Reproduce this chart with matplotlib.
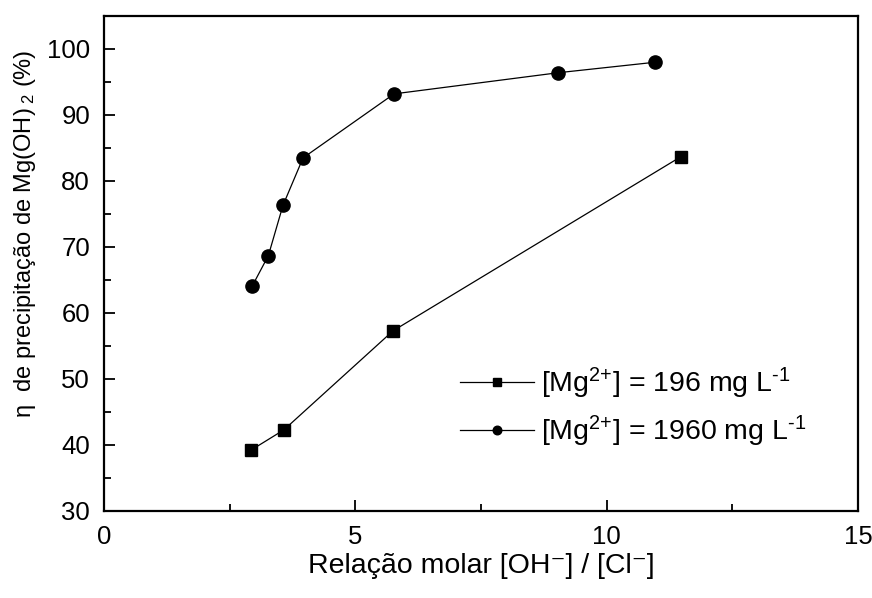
import numpy as np
import matplotlib
matplotlib.use('Agg')
import matplotlib.pyplot as plt

plt.rcParams['font.family'] = ['Liberation Sans', 'DejaVu Sans']
plt.rcParams['mathtext.fontset'] = 'custom'
plt.rcParams['mathtext.rm'] = 'Liberation Sans'
plt.rcParams['mathtext.it'] = 'Liberation Sans'

# data
x_196 = [2.92, 3.58, 5.75, 11.48]
y_196 = [39.2, 42.3, 57.3, 83.7]
x_1960 = [2.95, 3.27, 3.56, 3.96, 5.77, 9.03, 10.97]
y_1960 = [64.1, 68.7, 76.3, 83.5, 93.2, 96.4, 98.0]

lab_196 = r'[Mg$\mathregular{^{2{+}}}$] = 196 mg L$\mathregular{^{\text{-}1}}$'
lab_1960 = r'[Mg$\mathregular{^{2{+}}}$] = 1960 mg L$\mathregular{^{\text{-}1}}$'

fig = plt.figure(figsize=(8.72, 5.98), dpi=100)
ax = fig.add_axes([104/872, 1-511/598, (858-104)/872, (511-16)/598])

ax.plot(x_196, y_196, '-s', color='black', lw=0.9, ms=9, label=lab_196)
ax.plot(x_1960, y_1960, '-o', color='black', lw=0.9, ms=9.5, label=lab_1960)

ax.set_xlim(0, 15)
ax.set_ylim(30, 105)
ax.set_xticks([0, 5, 10, 15])
ax.set_xticks([2.5, 7.5, 12.5], minor=True)
ax.set_yticks(np.arange(30, 101, 10))
ax.set_yticks(np.arange(35, 101, 10), minor=True)
ax.tick_params(which='both', direction='in', top=False, right=False,
               labelsize=18.5, width=1.3, pad=10)
ax.tick_params(which='major', length=8)
ax.tick_params(which='minor', length=5)
for s in ax.spines.values():
    s.set_linewidth(1.6)

ax.set_xlabel('Relação molar [OH⁻] / [Cl⁻]', fontsize=20.5, labelpad=3)
ax.set_ylabel(r'η  de precipitação de Mg(OH)$_{\ 2}$ (%)', fontsize=17)
ax.yaxis.set_label_coords(-0.088, 0.56)

ax.legend(loc='center left', bbox_to_anchor=(0.472, 0.21), frameon=False,
          fontsize=20.5, handlelength=2.6, handletextpad=0.25, borderpad=0,
          borderaxespad=0, labelspacing=0.45, markerscale=0.65)

fig.savefig('out.png', dpi=100)
